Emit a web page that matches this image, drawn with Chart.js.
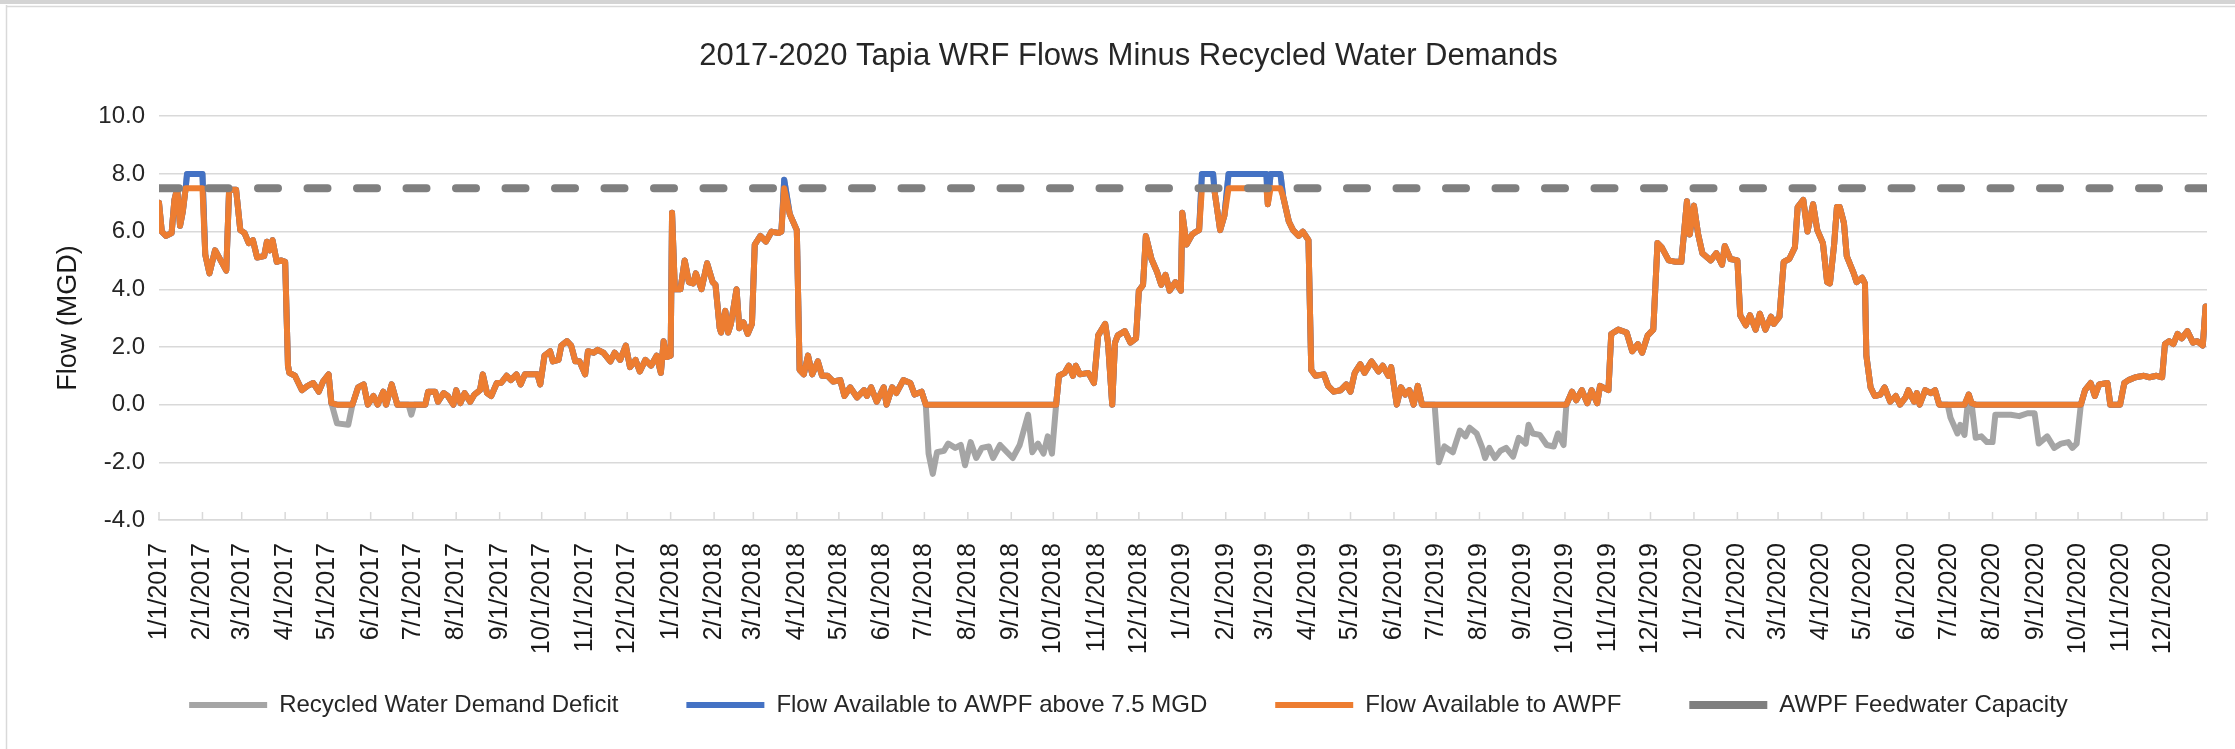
<!DOCTYPE html>
<html>
<head>
<meta charset="utf-8">
<title>Tapia WRF Flows</title>
<script src="https://cdn.jsdelivr.net/npm/chart.js@4.4.1/dist/chart.umd.min.js"></script>
<style>
  html, body { margin: 0; padding: 0; background: #fff; }
  canvas { display: block; }
</style>
</head>
<body>
<canvas id="myChart" width="2235" height="749"></canvas>
<script>
// tick labels on the date axis (first of each month)
const monthLabels = [
  '1/1/2017','2/1/2017','3/1/2017','4/1/2017','5/1/2017','6/1/2017','7/1/2017','8/1/2017','9/1/2017','10/1/2017','11/1/2017','12/1/2017',
  '1/1/2018','2/1/2018','3/1/2018','4/1/2018','5/1/2018','6/1/2018','7/1/2018','8/1/2018','9/1/2018','10/1/2018','11/1/2018','12/1/2018',
  '1/1/2019','2/1/2019','3/1/2019','4/1/2019','5/1/2019','6/1/2019','7/1/2019','8/1/2019','9/1/2019','10/1/2019','11/1/2019','12/1/2019',
  '1/1/2020','2/1/2020','3/1/2020','4/1/2020','5/1/2020','6/1/2020','7/1/2020','8/1/2020','9/1/2020','10/1/2020','11/1/2020','12/1/2020'
];

const days = [
  0,2,5,9,11,13,15,17,19,20,31,33,36,40,44,48,50,55,58,61,64,67,70,75,77,79,81,84,87,90,92,93,97,102,106,110,114,117,121,123,127,135,138,142,146,149,153,156,160,162,166,170,178,180,182,190,192,197,199,203,206,210,212,215,218,222,225,229,231,234,237,241,244,248,251,255,258,261,270,272,275,279,281,285,287,291,294,297,300,304,306,310,313,317,322,325,329,333,336,340,343,347,351,355,358,360,362,
  365,366,368,372,375,378,381,383,387,391,395,397,400,401,404,406,408,412,414,417,420,423,425,429,433,437,442,444,446,450,455,457,460,463,466,470,473,477,481,486,489,493,498,503,505,508,512,517,519,523,526,531,536,539,544,547,549,552,555,560,563,568,572,575,579,583,587,592,595,600,605,609,614,620,623,627,631,634,637,640,642,646,649,652,654,657,663,667,670,675,677,680,682,684,689,693,697,699,702,704,708,712,715,718,721,725,729,
  730,733,737,740,742,744,752,753,757,760,763,790,791,793,800,802,806,809,813,816,820,822,825,831,834,838,843,847,850,853,857,860,865,870,873,877,879,883,886,889,892,895,898,901,910,913,917,923,928,932,935,940,944,946,949,953,957,961,966,970,975,977,980,985,990,995,998,1002,1004,1008,1011,1015,1019,1022,1026,1028,1034,1036,1041,1047,1051,1055,1058,1062,1066,1069,1072,1077,1082,1086,1088,1090,1092,
  1095,1098,1101,1107,1111,1115,1117,1121,1126,1128,1132,1135,1139,1142,1146,1150,1152,1156,1159,1163,1167,1169,1173,1176,1180,1183,1187,1190,1192,1195,1197,1199,1202,1204,1209,1211,1215,1217,1218,1221,1224,1228,1231,1235,1239,1242,1246,1248,1252,1254,1256,1260,1264,1267,1270,1276,1278,1283,1285,1288,1291,1293,1296,1300,1304,1308,1310,1315,1321,1327,1333,1338,1341,1347,1352,1357,1362,1365,1368,1371,1374,1378,1381,1384,1390,1392,1399,1402,1405,1410,1416,1420,1425,1429,1431,1434,1437,1440,1443,1447,1451,1454,1458,1460
];

// Tapia flow minus recycled water demand (MGD)
const netFlow = [
  7.0,6.0,5.85,5.95,7.1,7.5,6.2,6.7,7.5,8.0,8.0,5.2,4.55,5.35,5.0,4.65,7.45,7.45,6.05,5.95,5.6,5.7,5.1,5.15,5.65,5.35,5.7,4.95,5.0,4.95,1.35,1.1,1.0,0.5,0.65,0.75,0.45,0.8,1.05,0.05,-0.65,-0.7,0.0,0.6,0.7,0.0,0.3,0.0,0.45,0.0,0.7,0.0,0.0,-0.35,0.0,0.0,0.45,0.45,0.1,0.4,0.3,0.0,0.5,0.05,0.4,0.1,0.35,0.5,1.05,0.4,0.3,0.75,0.75,1.0,0.85,1.05,0.7,1.05,1.05,0.7,1.7,1.85,1.5,1.55,2.05,2.2,2.05,1.5,1.5,1.05,1.85,1.8,1.9,1.8,1.5,1.8,1.55,2.05,1.3,1.55,1.15,1.55,1.35,1.7,1.1,2.2,1.65,
  1.7,6.65,4.0,4.0,5.0,4.25,4.2,4.55,4.0,4.9,4.25,4.15,2.65,2.5,3.25,2.5,2.8,4.0,2.65,2.85,2.45,2.8,5.55,5.85,5.65,6.0,5.95,6.0,7.8,6.6,6.05,1.2,1.05,1.7,1.05,1.5,1.0,1.0,0.8,0.85,0.3,0.6,0.25,0.5,0.3,0.6,0.1,0.6,0.0,0.6,0.4,0.85,0.75,0.35,0.45,0.0,-1.7,-2.4,-1.65,-1.6,-1.35,-1.5,-1.4,-2.1,-1.3,-1.85,-1.5,-1.45,-1.85,-1.4,-1.65,-1.85,-1.4,-0.35,-1.65,-1.35,-1.7,-1.1,-1.7,0.0,1.0,1.1,1.35,1.0,1.35,1.05,1.1,0.75,2.4,2.8,2.15,0.0,2.15,2.4,2.55,2.15,2.3,3.95,4.15,5.85,5.05,4.6,4.15,4.5,3.95,4.25,3.95,
  6.65,5.55,5.9,6.0,6.05,8.0,8.0,7.4,6.05,6.55,8.0,8.0,6.95,8.0,8.0,7.2,6.35,6.05,5.85,6.0,5.7,1.2,1.0,1.05,0.65,0.45,0.5,0.7,0.45,1.1,1.4,1.1,1.5,1.15,1.35,1.0,1.3,0.0,0.6,0.35,0.5,0.0,0.65,0.0,0.0,-2.0,-1.45,-1.65,-0.9,-1.1,-0.8,-1.0,-1.5,-1.85,-1.5,-1.85,-1.6,-1.5,-1.8,-1.15,-1.35,-0.7,-1.0,-1.05,-1.4,-1.45,-1.0,-1.4,0.0,0.45,0.15,0.5,0.05,0.5,0.05,0.65,0.5,2.45,2.6,2.5,1.85,2.1,1.8,2.4,2.6,5.6,5.45,5.0,4.95,4.95,6.0,7.05,5.9,
  6.9,5.9,5.25,5.0,5.25,4.85,5.5,5.05,5.0,3.1,2.75,3.1,2.6,3.15,2.6,3.05,2.8,3.05,4.95,5.05,5.45,6.85,7.1,6.0,6.95,6.05,5.6,4.25,4.2,5.55,6.85,6.85,6.3,5.15,4.55,4.25,4.4,4.2,1.7,0.6,0.3,0.35,0.6,0.1,0.3,0.0,0.25,0.5,0.1,0.4,0.0,0.5,0.4,0.5,0.0,0.0,-0.45,-1.0,-0.7,-1.05,0.35,0.05,-1.15,-1.1,-1.3,-1.3,-0.35,-0.35,-0.35,-0.4,-0.3,-0.3,-1.35,-1.1,-1.5,-1.35,-1.3,-1.5,-1.35,0.0,0.5,0.75,0.3,0.7,0.75,0.0,0.0,0.75,0.85,0.95,1.0,0.95,1.0,0.95,2.1,2.2,2.1,2.45,2.3,2.55,2.15,2.2,2.05,3.4
];

const feedwaterCapacity = 7.5;   // MGD
const yTicks = [-4, -2, 0, 2, 4, 6, 8, 10];

// day offsets of the month labels
const start = Date.UTC(2017, 0, 1);
const monthDays = monthLabels.map(s => {
  const [m, d, y] = s.split('/').map(Number);
  return (Date.UTC(y, m - 1, d) - start) / 86400000;
});

const pts = f => days.map((d, i) => ({x: d, y: f(netFlow[i])}));

const common = {
  pointRadius: 0,
  pointHoverRadius: 0,
  pointStyle: 'line',
  borderWidth: 6,
  borderCapStyle: 'round',
  borderJoinStyle: 'round',
  tension: 0,
  fill: false
};

// short tick marks pointing up into the plot, like Excel
const insideTicks = {
  id: 'insideTicks',
  afterDraw(chart) {
    const {ctx, chartArea, scales: {x}} = chart;
    ctx.save();
    ctx.strokeStyle = '#d9d9d9';
    ctx.lineWidth = 1.5;
    ctx.beginPath();
    monthDays.concat([1461]).forEach(v => {
      const px = x.getPixelForValue(v);
      ctx.moveTo(px, chartArea.bottom);
      ctx.lineTo(px, chartArea.bottom - 8);
    });
    ctx.stroke();
    ctx.restore();
  }
};

// thin frame of the pasted Excel chart (grey strip on top, line on the left)
const frame = {
  id: 'frame',
  beforeDraw(chart) {
    const {ctx, width, height} = chart;
    ctx.save();
    ctx.fillStyle = '#d4d4d4';
    ctx.fillRect(0, 0, width, 4);
    ctx.strokeStyle = '#d9d9d9';
    ctx.lineWidth = 1.5;
    ctx.beginPath();
    ctx.moveTo(6.5, 5);
    ctx.lineTo(6.5, height);
    ctx.moveTo(6.5, 6.5);
    ctx.lineTo(width, 6.5);
    ctx.stroke();
    ctx.restore();
  }
};

const ctx = document.getElementById('myChart').getContext('2d');
new Chart(ctx, {
  type: 'line',
  data: {
    datasets: [
      {
        ...common,
        label: 'Recycled Water Demand Deficit',
        data: pts(v => v),
        borderColor: '#A5A5A5',
        backgroundColor: '#A5A5A5',
        order: 4
      },
      {
        ...common,
        label: 'Flow Available to AWPF above 7.5 MGD',
        data: pts(v => Math.max(v, 0)),
        borderColor: '#4472C4',
        backgroundColor: '#4472C4',
        order: 3
      },
      {
        ...common,
        label: 'Flow Available to AWPF',
        data: pts(v => Math.min(Math.max(v, 0), feedwaterCapacity)),
        borderColor: '#ED7D31',
        backgroundColor: '#ED7D31',
        order: 2
      },
      {
        ...common,
        label: 'AWPF Feedwater Capacity',
        data: [{x: days[0], y: feedwaterCapacity}, {x: days[days.length - 1], y: feedwaterCapacity}],
        borderColor: '#7F7F7F',
        backgroundColor: '#7F7F7F',
        borderWidth: 8,
        borderDash: [20, 29.5],
        order: 1
      }
    ]
  },
  options: {
    responsive: false,
    animation: false,
    events: [],
    layout: { padding: { left: 50, right: 28, top: 0, bottom: 22 } },
    plugins: {
      title: {
        display: true,
        text: '2017-2020 Tapia WRF Flows Minus Recycled Water Demands',
        color: '#262626',
        font: { family: 'Liberation Sans', size: 31, weight: 'normal' },
        padding: { top: 38, bottom: 41 }
      },
      legend: {
        position: 'bottom',
        labels: {
          usePointStyle: true,
          pointStyleWidth: 78,
          padding: 68,
          color: '#262626',
          font: { family: 'Liberation Sans', size: 24 },
          sort: (a, b) => a.datasetIndex - b.datasetIndex
        }
      },
      tooltip: { enabled: false }
    },
    scales: {
      x: {
        type: 'linear',
        min: 0,
        max: 1461,
        afterBuildTicks: s => { s.ticks = monthDays.map(v => ({value: v})); },
        afterFit: s => {
          s.height = 105;
          // let the rotated labels run past the shortened axis box
          s._computeLabelArea = () => undefined;
        },
        ticks: {
          autoSkip: false,
          minRotation: 90,
          maxRotation: 90,
          padding: 23,
          color: '#1a1a1a',
          font: { family: 'Liberation Sans', size: 25 },
          callback: (v, i) => monthLabels[i]
        },
        grid: { drawOnChartArea: false, drawTicks: false },
        border: { display: true, color: '#d9d9d9', width: 1.5 }
      },
      y: {
        min: -4,
        max: 10,
        afterBuildTicks: s => { s.ticks = yTicks.map(v => ({value: v})); },
        afterFit: s => { s.width = 109; },
        ticks: {
          padding: 14,
          color: '#262626',
          font: { family: 'Liberation Sans', size: 24 },
          callback: v => v.toFixed(1)
        },
        grid: { color: '#d9d9d9', lineWidth: 1.5, drawTicks: false },
        border: { display: false },
        title: {
          display: true,
          text: 'Flow (MGD)',
          color: '#1a1a1a',
          font: { family: 'Liberation Sans', size: 27 },
          padding: { top: 2 }
        }
      }
    }
  },
  plugins: [insideTicks, frame]
});
</script>
</body>
</html>
